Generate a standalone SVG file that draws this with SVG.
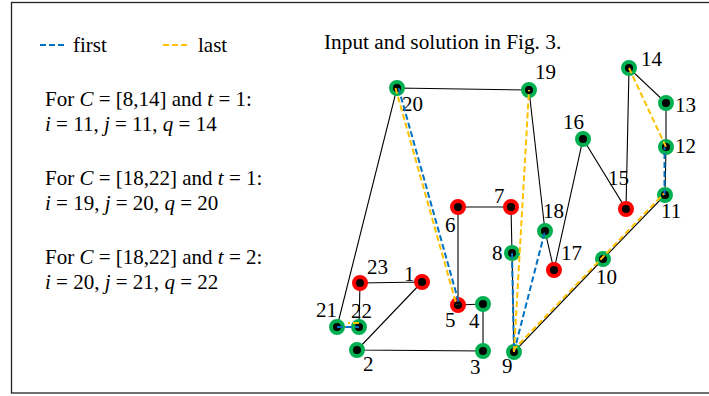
<svg xmlns="http://www.w3.org/2000/svg" width="709" height="396" viewBox="0 0 709 396">
<style>
text{font-family:"Liberation Serif","Times New Roman",serif;font-size:21px;fill:#000}
.it{font-style:italic}
.edge{stroke:#000;stroke-width:1.1;fill:none}
.g{fill:#000;stroke:#00b050;stroke-width:4}
.r{fill:#000;stroke:#ff0000;stroke-width:4}
.b{stroke:#0070c0;stroke-width:2;stroke-dasharray:6 3;fill:none}
.o{stroke:#ffc000;stroke-width:2;stroke-dasharray:6 3;fill:none}
</style>
<rect x="11.5" y="2.5" width="800" height="390.5" fill="#fff" stroke="#222" stroke-width="1.3"/>
<g id="legend">
<line class="b" x1="40" y1="45" x2="65" y2="45"/>
<text x="73" y="52">first</text>
<line class="o" x1="163" y1="45" x2="189" y2="45"/>
<text x="198" y="52">last</text>
</g>
<g id="notes">
<text x="45" y="106">For <tspan class="it">C</tspan> = [8,14] and <tspan class="it">t</tspan> = 1:</text>
<text x="45" y="131"><tspan class="it">i</tspan> = 11, <tspan class="it">j</tspan> = 11, <tspan class="it">q</tspan> = 14</text>
<text x="45" y="185">For <tspan class="it">C</tspan> = [18,22] and <tspan class="it">t</tspan> = 1:</text>
<text x="45" y="210"><tspan class="it">i</tspan> = 19, <tspan class="it">j</tspan> = 20, <tspan class="it">q</tspan> = 20</text>
<text x="45" y="264">For <tspan class="it">C</tspan> = [18,22] and <tspan class="it">t</tspan> = 2:</text>
<text x="45" y="289"><tspan class="it">i</tspan> = 20, <tspan class="it">j</tspan> = 21, <tspan class="it">q</tspan> = 22</text>
</g>
<text id="title" x="324" y="49" style="font-size:21.3px">Input and solution in Fig. 3.</text>
<g id="connectors">
<path class="edge" d="M422,282 L357,350 L483,351 L483,304 L458,305 L458,207 L511,207 L512,253 L514,352 L603,259 L665,195 L666,147 L666,103 L629,68 L626,209 L583,139 L554,270 L545,231 L529,90 L397,88 L337,327 L359,327 L360,283 Z"/>
</g>
<g id="nodes">
<g id="n1"><circle class="r" cx="422" cy="282" r="6"/><text x="404" y="281">1</text></g>
<g id="n2"><circle class="g" cx="357" cy="350" r="6"/><text x="363" y="371">2</text></g>
<g id="n3"><circle class="g" cx="483" cy="351" r="6"/><text x="470" y="374">3</text></g>
<g id="n4"><circle class="g" cx="483" cy="304" r="6"/><text x="469" y="328">4</text></g>
<g id="n5"><circle class="r" cx="458" cy="305" r="6"/><text x="445" y="327">5</text></g>
<g id="n6"><circle class="r" cx="458" cy="207" r="6"/><text x="445" y="232">6</text></g>
<g id="n7"><circle class="r" cx="511" cy="207" r="6"/><text x="494" y="203">7</text></g>
<g id="n8"><circle class="g" cx="512" cy="253" r="6"/><text x="492" y="260">8</text></g>
<g id="n9"><circle class="g" cx="514" cy="352" r="6"/><text x="502" y="373">9</text></g>
<g id="n10"><circle class="g" cx="603" cy="259" r="6"/><text x="596" y="284">10</text></g>
<g id="n11"><circle class="g" cx="665" cy="195" r="6"/><text x="661" y="218">11</text></g>
<g id="n12"><circle class="g" cx="666" cy="147" r="6"/><text x="675" y="153">12</text></g>
<g id="n13"><circle class="g" cx="666" cy="103" r="6"/><text x="675" y="112">13</text></g>
<g id="n14"><circle class="g" cx="629" cy="68" r="6"/><text x="641" y="66">14</text></g>
<g id="n15"><circle class="r" cx="626" cy="209" r="6"/><text x="608" y="185">15</text></g>
<g id="n16"><circle class="g" cx="583" cy="139" r="6"/><text x="563" y="129">16</text></g>
<g id="n17"><circle class="r" cx="554" cy="270" r="6"/><text x="561" y="260">17</text></g>
<g id="n18"><circle class="g" cx="545" cy="231" r="6"/><text x="543" y="218">18</text></g>
<g id="n19"><circle class="g" cx="529" cy="90" r="6"/><text x="535" y="79">19</text></g>
<g id="n20"><circle class="g" cx="397" cy="88" r="6"/><text x="402" y="111">20</text></g>
<g id="n21"><circle class="g" cx="337" cy="327" r="6"/><text x="316" y="317">21</text></g>
<g id="n22"><circle class="g" cx="359" cy="327" r="6"/><text x="351" y="318">22</text></g>
<g id="n23"><circle class="r" cx="360" cy="283" r="6"/><text x="367" y="274">23</text></g>
</g>
<g id="paths">
<line class="b" x1="398.5" y1="88" x2="459.5" y2="305"/>
<line class="o" x1="395.5" y1="88" x2="456.5" y2="305"/>
<line class="b" x1="512" y1="253" x2="514" y2="352"/>
<line class="b" x1="514" y1="352" x2="545" y2="231"/>
<line class="b" x1="664.5" y1="195" x2="664.5" y2="147"/>
<line class="b" x1="337" y1="327" x2="359" y2="327"/>
<line class="o" x1="514" y1="352" x2="529" y2="90"/>
<line class="o" x1="513" y1="350.5" x2="664" y2="193.5"/>
<line class="o" x1="629" y1="68" x2="666" y2="147"/>
<line class="o" x1="359" y1="323" x2="348" y2="323"/>
</g>
</svg>
